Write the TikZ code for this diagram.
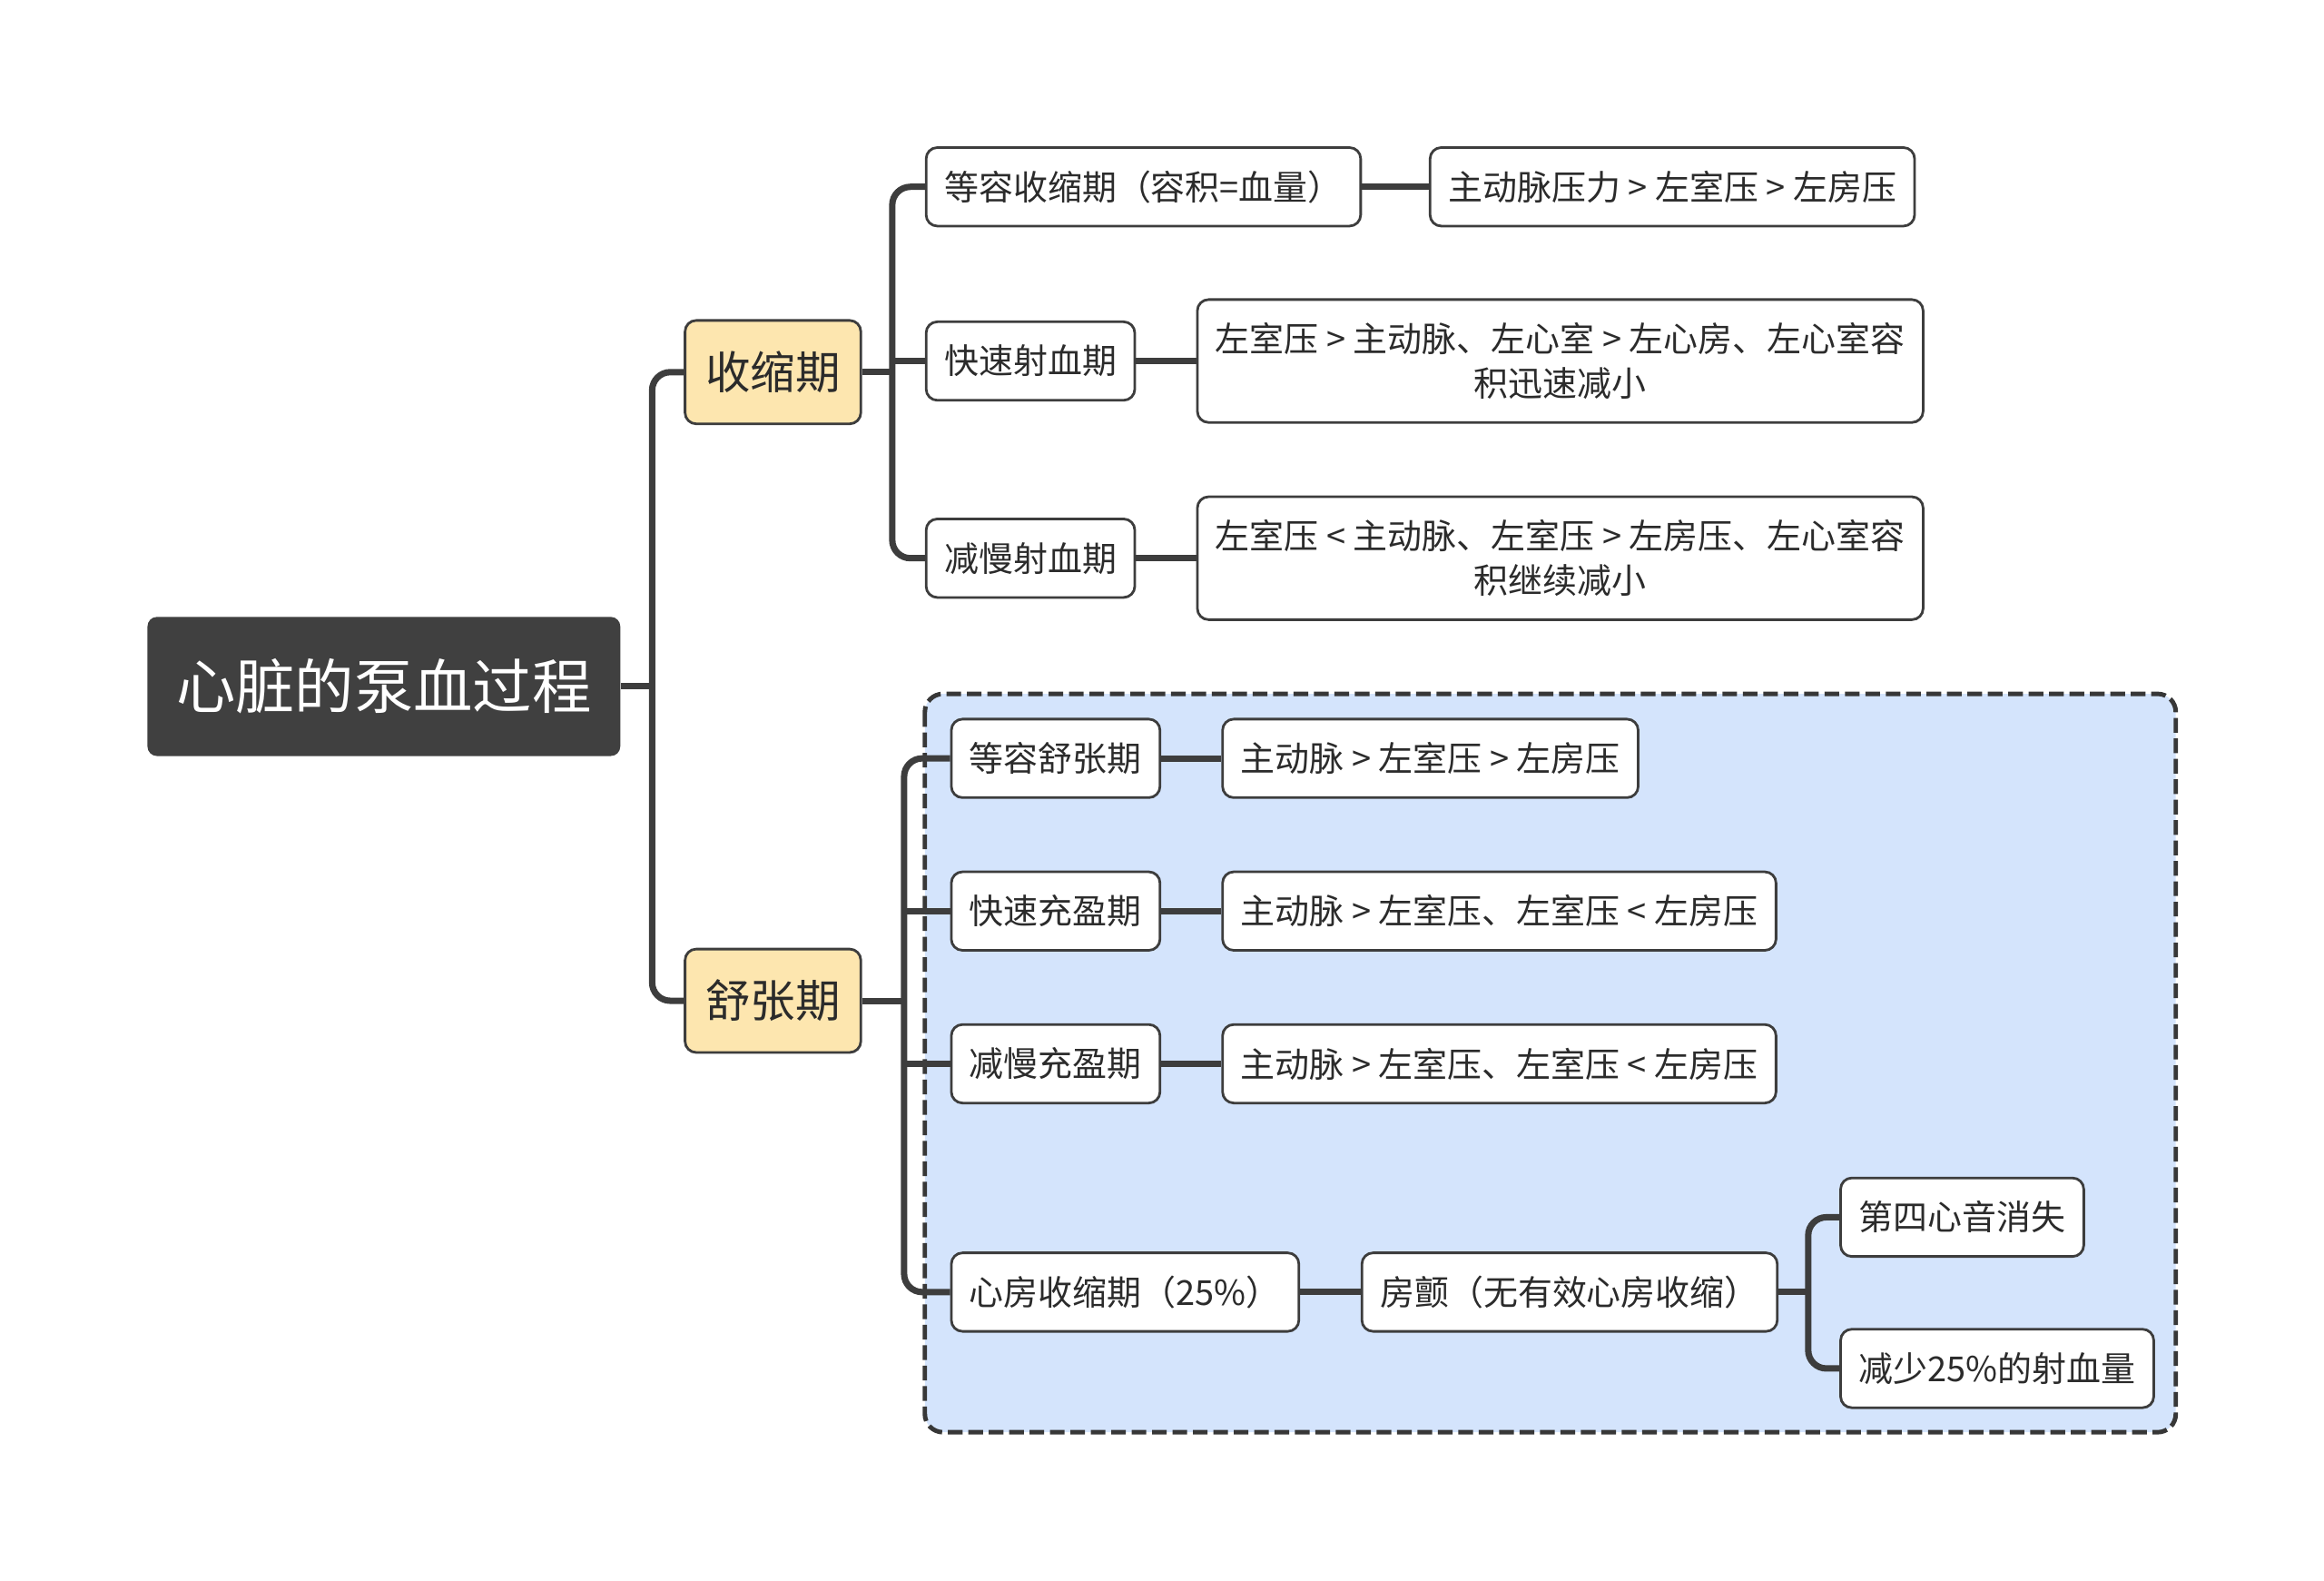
\documentclass[tikz,border=0pt]{standalone}
\usepackage{fontspec}
\setmainfont{Noto Sans CJK SC}
\definecolor{rootgray}{HTML}{404040}
\definecolor{linegray}{HTML}{3D3D3D}
\definecolor{phaseyellow}{HTML}{FDE6AF}
\definecolor{groupblue}{HTML}{D4E4FC}
\definecolor{textgray}{HTML}{2B2B2B}
\tikzset{
  root/.style={rounded corners=3pt, fill=rootgray, text=white,
    font=\fontsize{18.6}{22}\selectfont, minimum height=43.6pt, inner xsep=9pt},
  phase/.style={draw=linegray, line width=0.8pt, rounded corners=3.5pt, fill=phaseyellow,
    text=textgray, font=\fontsize{14.1}{17}\selectfont, minimum height=32.4pt, inner xsep=6.4pt},
  leaf/.style={draw=linegray, line width=0.8pt, rounded corners=3.5pt, fill=white,
    text=textgray, font=\fontsize{10.8}{13.9}\selectfont, minimum height=24.6pt,
    inner xsep=5.7pt, align=center, anchor=west},
  tall/.style={minimum height=38.5pt},
  link/.style={draw=linegray, line width=2pt, rounded corners=0.2cm},
  group/.style={draw=linegray!90!black, fill=groupblue, line width=1.4pt, rounded corners=0.2cm,
    dash pattern=on 4.6pt off 1.8pt}
}
\begin{document}
\begin{tikzpicture}[x=0.016327cm, y=-0.016327cm]
  \useasboundingbox (0,0) rectangle (1568,1066);
  % dashed frame round the diastole branch
  \draw[group] (624,468) rectangle (1468,966);

  \node[root] (root) at (259,463) {心脏的泵血过程};
  \node[phase] (sys) at (521.5,251) {收缩期};
  \node[phase] (dia) at (521.5,675) {舒张期};

  % systole
  \node[leaf] (s1) at (624,126) {等容收缩期（容积=血量）};
  \node[leaf] (s1r) at (964,126) {主动脉压力 > 左室压 > 左房压};
  \node[leaf] (s2) at (624,243.5) {快速射血期};
  \node[leaf, tall] (s2r) at (807,243.5) {左室压 > 主动脉、左心室 > 左心房、左心室容\\积迅速减小};
  \node[leaf] (s3) at (624,376.5) {减慢射血期};
  \node[leaf, tall] (s3r) at (807,376.5) {左室压 < 主动脉、左室压 > 左房压、左心室容\\积继续减小};

  % diastole
  \node[leaf] (d1) at (641,511.5) {等容舒张期};
  \node[leaf] (d1r) at (824,511.5) {主动脉 > 左室压 > 左房压};
  \node[leaf] (d2) at (641,614.5) {快速充盈期};
  \node[leaf] (d2r) at (824,614.5) {主动脉 > 左室压、左室压 < 左房压};
  \node[leaf] (d3) at (641,717.5) {减慢充盈期};
  \node[leaf] (d3r) at (824,717.5) {主动脉 > 左室压、左室压 < 左房压};
  \node[leaf] (d4) at (641,871.5) {心房收缩期（25\%）};
  \node[leaf] (d4r) at (918,871.5) {房颤（无有效心房收缩）};
  \node[leaf] (d4a) at (1241,821) {第四心音消失};
  \node[leaf] (d4b) at (1241,923) {减少25\%的射血量};

  % junctions
  \coordinate (j0) at (440,463);
  \coordinate (jS) at (602,251);
  \coordinate (jD) at (610,675);
  \coordinate (jF) at (1220,871.5);

  \draw[link] (root.east) -- (j0);
  \draw[link] (sys.west) -| (j0 |- dia.west) -- (dia.west);

  \draw[link] (sys.east) -- (jS);
  \draw[link] (s1.west) -| (jS |- s3.west) -- (s3.west);
  \draw[link] (jS |- s2.west) -- (s2.west);
  \draw[link] (s1.east) -- (s1r.west);
  \draw[link] (s2.east) -- (s2r.west);
  \draw[link] (s3.east) -- (s3r.west);

  \draw[link] (dia.east) -- (jD);
  \draw[link] (d1.west) -| (jD |- d4.west) -- (d4.west);
  \draw[link] (jD |- d2.west) -- (d2.west);
  \draw[link] (jD |- d3.west) -- (d3.west);
  \draw[link] (d1.east) -- (d1r.west);
  \draw[link] (d2.east) -- (d2r.west);
  \draw[link] (d3.east) -- (d3r.west);
  \draw[link] (d4.east) -- (d4r.west);

  \draw[link] (d4r.east) -- (jF);
  \draw[link] (d4a.west) -| (jF |- d4b.west) -- (d4b.west);
\end{tikzpicture}
\end{document}
